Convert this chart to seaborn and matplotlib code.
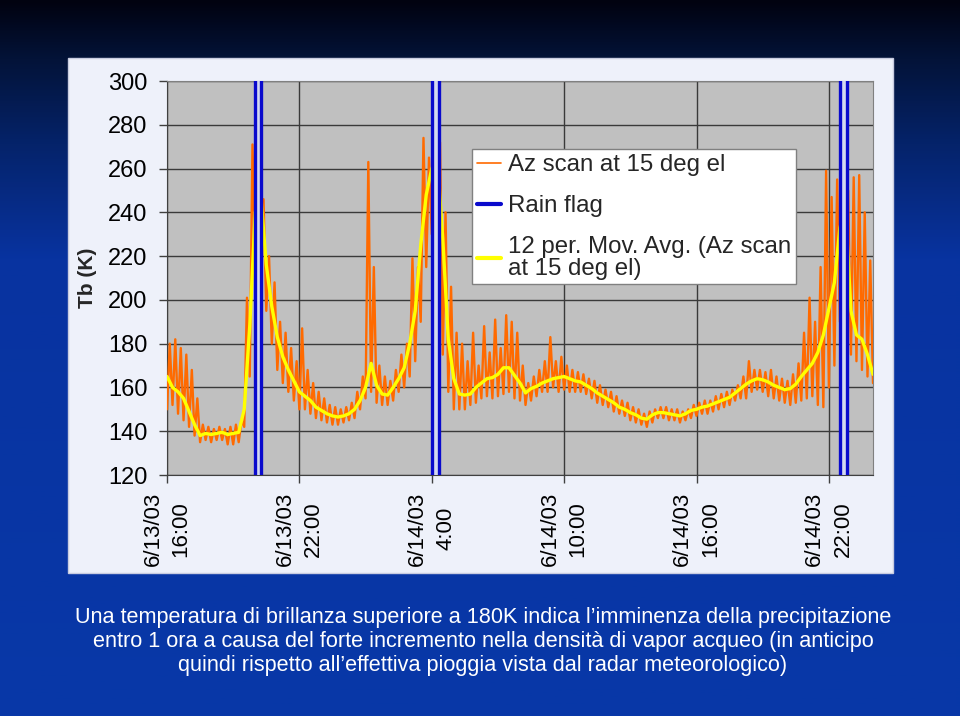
import numpy as np
import pandas as pd
import matplotlib
matplotlib.use("Agg")
import matplotlib.pyplot as plt
import seaborn as sns
from matplotlib.colors import LinearSegmentedColormap
from matplotlib.patches import Rectangle
from matplotlib.lines import Line2D

# ---------------- data (hours after 6/13/03 16:00) ----------------
step_h = 0.25
hours = [i * step_h for i in range(129)]

mov_avg = [165, 160, 158, 155, 149, 143, 138, 139, 138.5, 139,
           139.5, 138.5, 139, 139.5, 150, 188, 240, 248, 216, 197,
           183, 174, 168, 163, 158, 156, 154, 151, 149.5, 148,
           147, 146.5, 147, 148, 150, 154, 160, 171, 161, 157,
           156.5, 160, 164, 169, 180, 195, 225, 248, 260, 265,
           228, 182, 164, 157, 156.5, 157, 160, 162, 164, 164.5,
           166, 169, 169, 165.5, 162, 157.5, 159.5, 160.5, 162, 163,
           164, 164.5, 165, 164, 163, 162.5, 161, 159.5, 157.5, 156,
           154.5, 153, 151, 150, 148.5, 147.5, 146, 145.5, 147.5, 148.5,
           148.5, 148, 147.5, 147, 148, 149.5, 150, 151, 151.5, 152.5,
           153.5, 154.5, 155.5, 157.5, 159.5, 161.5, 163, 164, 163.5, 162.5,
           161, 160, 159, 159.5, 161.5, 165, 168, 171, 176, 184,
           196, 208, 233, 242, 195, 184, 182, 175, 166]

az_low = [150, 152, 148, 145, 142, 138, 135, 136, 135, 136,
          136, 134, 134, 135, 142, 165, 215, 225, 195, 180,
          168, 162, 158, 154, 150, 150, 148, 146, 145, 144,
          143, 143, 144, 145, 146, 150, 155, 158, 153, 152,
          152, 154, 158, 160, 165, 172, 190, 215, 230, 210,
          175, 158, 150, 150, 150, 152, 153, 155, 156, 155,
          156, 157, 158, 155, 154, 152, 154, 156, 158, 158,
          160, 158, 159, 158, 158, 158, 157, 155, 153, 152,
          151, 149, 148, 147, 145, 144, 143, 142, 144, 146,
          146, 145, 145, 144, 145, 146, 147, 148, 148, 149,
          150, 151, 152, 154, 155, 155, 158, 159, 158, 156,
          155, 154, 153, 152, 153, 154, 155, 156, 152, 151,
          160, 170, 190, 200, 175, 172, 168, 165, 162]

az_high = [180, 182, 178, 175, 168, 155, 143, 142, 141, 142,
           141, 142, 143, 145, 201, 271, 255, 246, 220, 208,
           190, 185, 178, 172, 187, 168, 162, 158, 155, 152,
           151, 150, 151, 153, 158, 165, 263, 215, 170, 165,
           163, 168, 175, 180, 219, 215, 274, 265, 278, 272,
           240, 206, 185, 180, 172, 185, 170, 188, 176, 191,
           178, 193, 190, 185, 170, 162, 165, 168, 172, 183,
           172, 174, 170, 168, 167, 166, 164, 163, 161, 159,
           158, 156, 154, 153, 151, 150, 148, 149, 150, 151,
           151, 150, 150, 149, 150, 152, 153, 154, 154, 156,
           157, 158, 159, 161, 165, 172, 168, 168, 167, 168,
           165, 164, 163, 166, 171, 185, 201, 190, 215, 259,
           247, 255, 281, 250, 256, 257, 240, 218]

rain_hours = [0.0, 3.98, 3.98, 4.27, 4.27, 12.02, 12.02, 12.32, 12.32,
              30.52, 30.52, 30.80, 30.80, 32.0]
rain_flag = [0, 0, 400, 400, 0, 0, 400, 400, 0, 0, 400, 400, 0, 0]

x_ticks = [0, 6, 12, 18, 24, 30]
x_labels = ["6/13/03\n16:00", "6/13/03\n22:00", "6/14/03\n4:00",
            "6/14/03\n10:00", "6/14/03\n16:00", "6/14/03\n22:00"]
y_ticks = [120, 140, 160, 180, 200, 220, 240, 260, 280, 300]

legend_labels = ["Az scan at 15 deg el", "Rain flag",
                 "12 per. Mov. Avg. (Az scan\nat 15 deg el)"]

caption = ["Una temperatura di brillanza superiore a 180K indica l\u2019imminenza della precipitazione",
           "entro 1 ora a causa del forte incremento nella densit\u00e0 di vapor acqueo (in anticipo",
           "quindi rispetto all\u2019effettiva pioggia vista dal radar meteorologico)"]

# ---------------- tables ----------------
t_az, v_az = [], []
for i in range(len(az_high)):
    t_az += [hours[i], hours[i] + step_h / 2]
    v_az += [az_low[i], az_high[i]]
t_az.append(hours[len(az_high)])
v_az.append(az_low[len(az_high)])
df_az = pd.DataFrame({"h": t_az, "Tb": v_az})
df_avg = pd.DataFrame({"h": hours, "Tb": mov_avg})
df_rain = pd.DataFrame({"h": rain_hours, "flag": rain_flag})

# ---------------- figure ----------------
sns.set_style("white")
plt.rcParams["font.family"] = ["Liberation Sans", "DejaVu Sans"]
W, H = 960, 716
fig = plt.figure(figsize=(W / 100, H / 100), dpi=100)

# slide background
bg = fig.add_axes([0, 0, 1, 1], zorder=0)
bg.set_xlim(0, W)
bg.set_ylim(H, 0)
bg.axis("off")
cmap = LinearSegmentedColormap.from_list(
    "slide", [(0, "#010210"), (0.08, "#031338"), (0.2, "#05236a"),
              (0.36, "#0833a0"), (1, "#0838a8")])
grad = np.linspace(0, 1, 256).reshape(-1, 1)
bg.imshow(grad, cmap=cmap, extent=[0, W, H, 0], aspect="auto")
bg.add_patch(Rectangle((68, 58), 825, 515, facecolor="#EEF1FA",
                       edgecolor="#C8CCE0", lw=1))
for k, line in enumerate(caption):
    bg.text(483, 617 + 24.5 * k, line, ha="center", va="center",
            color="white", fontsize=15.6)

# chart axes
L, R, T, B = 167, 873, 81, 475
ax = fig.add_axes([L / W, 1 - B / H, (R - L) / W, (B - T) / H], zorder=2)
ax.set_facecolor("#C0C0C0")

sns.lineplot(data=df_az, x="h", y="Tb", ax=ax, color="#FF6A00", lw=1.7,
             estimator=None, sort=False, zorder=3)
sns.lineplot(data=df_avg, x="h", y="Tb", ax=ax, color="#FFFF00", lw=2.4,
             estimator=None, sort=False, zorder=4)
ax.fill_between(df_rain["h"], 0, df_rain["flag"], color="#D4D9F0",
                lw=0, zorder=5)
sns.lineplot(data=df_rain, x="h", y="flag", ax=ax, color="#0A0ACC", lw=2.4,
             estimator=None, sort=False, zorder=6)

ax.set_xlim(0, 32)
ax.set_ylim(120, 300)
ax.set_xticks(x_ticks)
ax.set_xticklabels(x_labels, rotation=90, fontsize=16, linespacing=1.45,
                   multialignment="center")
ax.set_yticks(y_ticks)
ax.set_yticklabels([str(v) for v in y_ticks], fontsize=17)
ax.grid(True, color="#3A3A3A", lw=1)
ax.set_axisbelow(True)
ax.tick_params(axis="both", direction="out", length=6, width=1,
               color="#404040", labelcolor="black", left=True, bottom=True)
ax.tick_params(axis="y", pad=8)
ax.tick_params(axis="x", pad=6)
for s in ax.spines.values():
    s.set_color("#808080")
    s.set_linewidth(0.8)
ax.spines["left"].set_color("#404040")
ax.spines["bottom"].set_color("#404040")
ax.set_xlabel("")
ax.set_ylabel("Tb (K)", fontsize=15, fontweight="bold", labelpad=8)

handles = [Line2D([], [], color="#FF6A00", lw=1.2),
           Line2D([], [], color="#0A0ACC", lw=3),
           Line2D([], [], color="#FFFF00", lw=3)]
leg = ax.legend(handles, legend_labels, loc="upper left",
                bbox_to_anchor=(0.432, 0.827), fontsize=17.3,
                handlelength=1.0, handletextpad=0.3, labelspacing=0.8,
                borderpad=0.2, borderaxespad=0, frameon=True,
                fancybox=False, framealpha=1, facecolor="white",
                edgecolor="#808080")
leg.get_frame().set_linewidth(1)
for txt in leg.get_texts():
    txt.set_linespacing(0.95)
leg.set_zorder(10)

fig.savefig("out.png", dpi=100)
